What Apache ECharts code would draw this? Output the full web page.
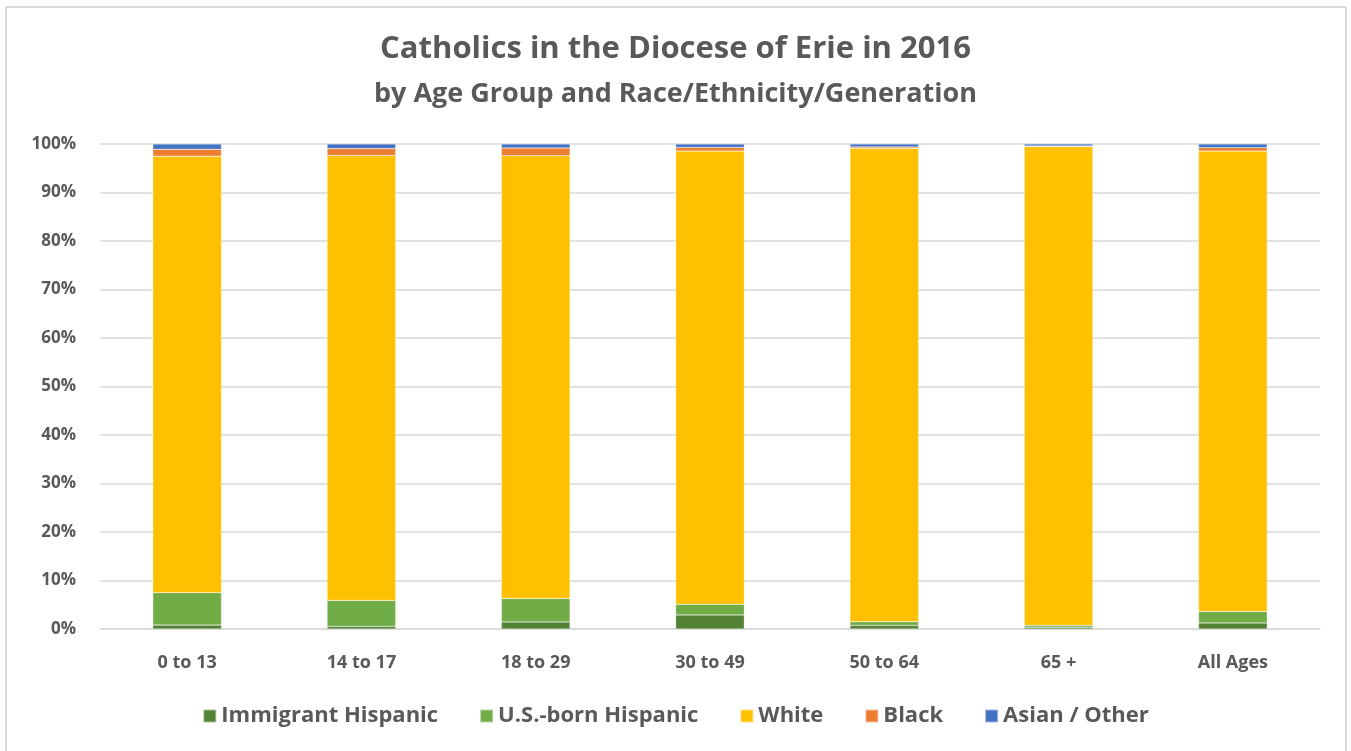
<!DOCTYPE html>
<html><head><meta charset="utf-8">
<script src="https://cdn.jsdelivr.net/npm/echarts@6/dist/echarts.min.js"></script>
<style>
html,body{margin:0;padding:0;background:#fff;}
#frame{position:absolute;left:5px;top:6px;width:1342px;height:760px;border:2px solid #d9d9d9;box-sizing:border-box;}
#c{position:absolute;left:0;top:0;width:1351px;height:751px;}
</style></head>
<body><div id="frame"></div><div id="c"></div>
<script>
const categories = ['0 to 13','14 to 17','18 to 29','30 to 49','50 to 64','65 +','All Ages'];
const immigrantHispanic = [0.8, 0.55, 1.45, 2.9, 0.75, 0.35, 1.25];
const usBornHispanic    = [6.7, 5.35, 4.85, 2.2, 0.75, 0.4, 2.35];
const white             = [90.0, 91.75, 91.3, 93.45, 97.6, 98.7, 94.95];
const black             = [1.4, 1.4, 1.6, 0.75, 0.3, 0.15, 0.7];
const asianOther        = [1.1, 0.95, 0.8, 0.7, 0.6, 0.4, 0.75];
const seriesNames = ['Immigrant Hispanic','U.S.-born Hispanic','White','Black','Asian / Other'];
const seriesColors = ['#548235','#70ad47','#ffc000','#ed7d31','#4472c4'];
const yTicks = [0,10,20,30,40,50,60,70,80,90,100];

const font = '"Open Sans", sans-serif';
const dataSets = [immigrantHispanic, usBornHispanic, white, black, asianOther];
const chart = echarts.init(document.getElementById('c'));
chart.setOption({
  animation:false,
  title:{
    text:'Catholics in the Diocese of Erie in 2016',
    subtext:'by Age Group and Race/Ethnicity/Generation',
    left:'center', top:29, itemGap:16,
    textStyle:{fontFamily:font,fontSize:31,fontWeight:'bold',color:'#595959'},
    subtextStyle:{fontFamily:font,fontSize:27,fontWeight:'bold',color:'#595959'}
  },
  legend:{
    data:seriesNames, bottom:19, left:'center', itemWidth:13, itemHeight:13, itemGap:41,
    icon:'rect',
    textStyle:{fontFamily:font,fontSize:22,fontWeight:'bold',color:'#595959'}
  },
  grid:{left:100,right:31,top:144,bottom:122,containLabel:false},
  xAxis:{
    type:'category', data:categories,
    axisLine:{lineStyle:{color:'#d9d9d9',width:1.5}}, axisTick:{show:false},
    axisLabel:{fontFamily:font,fontSize:18,fontWeight:'bold',color:'#595959',margin:25}
  },
  yAxis:{
    type:'value', min:0, max:100, interval:10,
    axisLabel:{fontFamily:font,fontSize:17,fontWeight:'bold',color:'#595959',margin:24,
      formatter:v=>yTicks.includes(v)?v+'%':''},
    splitLine:{lineStyle:{color:'#d9d9d9',width:1.5}},
    axisLine:{show:false}, axisTick:{show:false}
  },
  series: seriesNames.map((n,i)=>({
    name:n, type:'bar', stack:'total', data:dataSets[i], barWidth:'39.4%',
    itemStyle:{color:seriesColors[i], borderColor:'rgba(255,255,255,0.5)', borderWidth:0.5}
  }))
});
</script></body></html>
